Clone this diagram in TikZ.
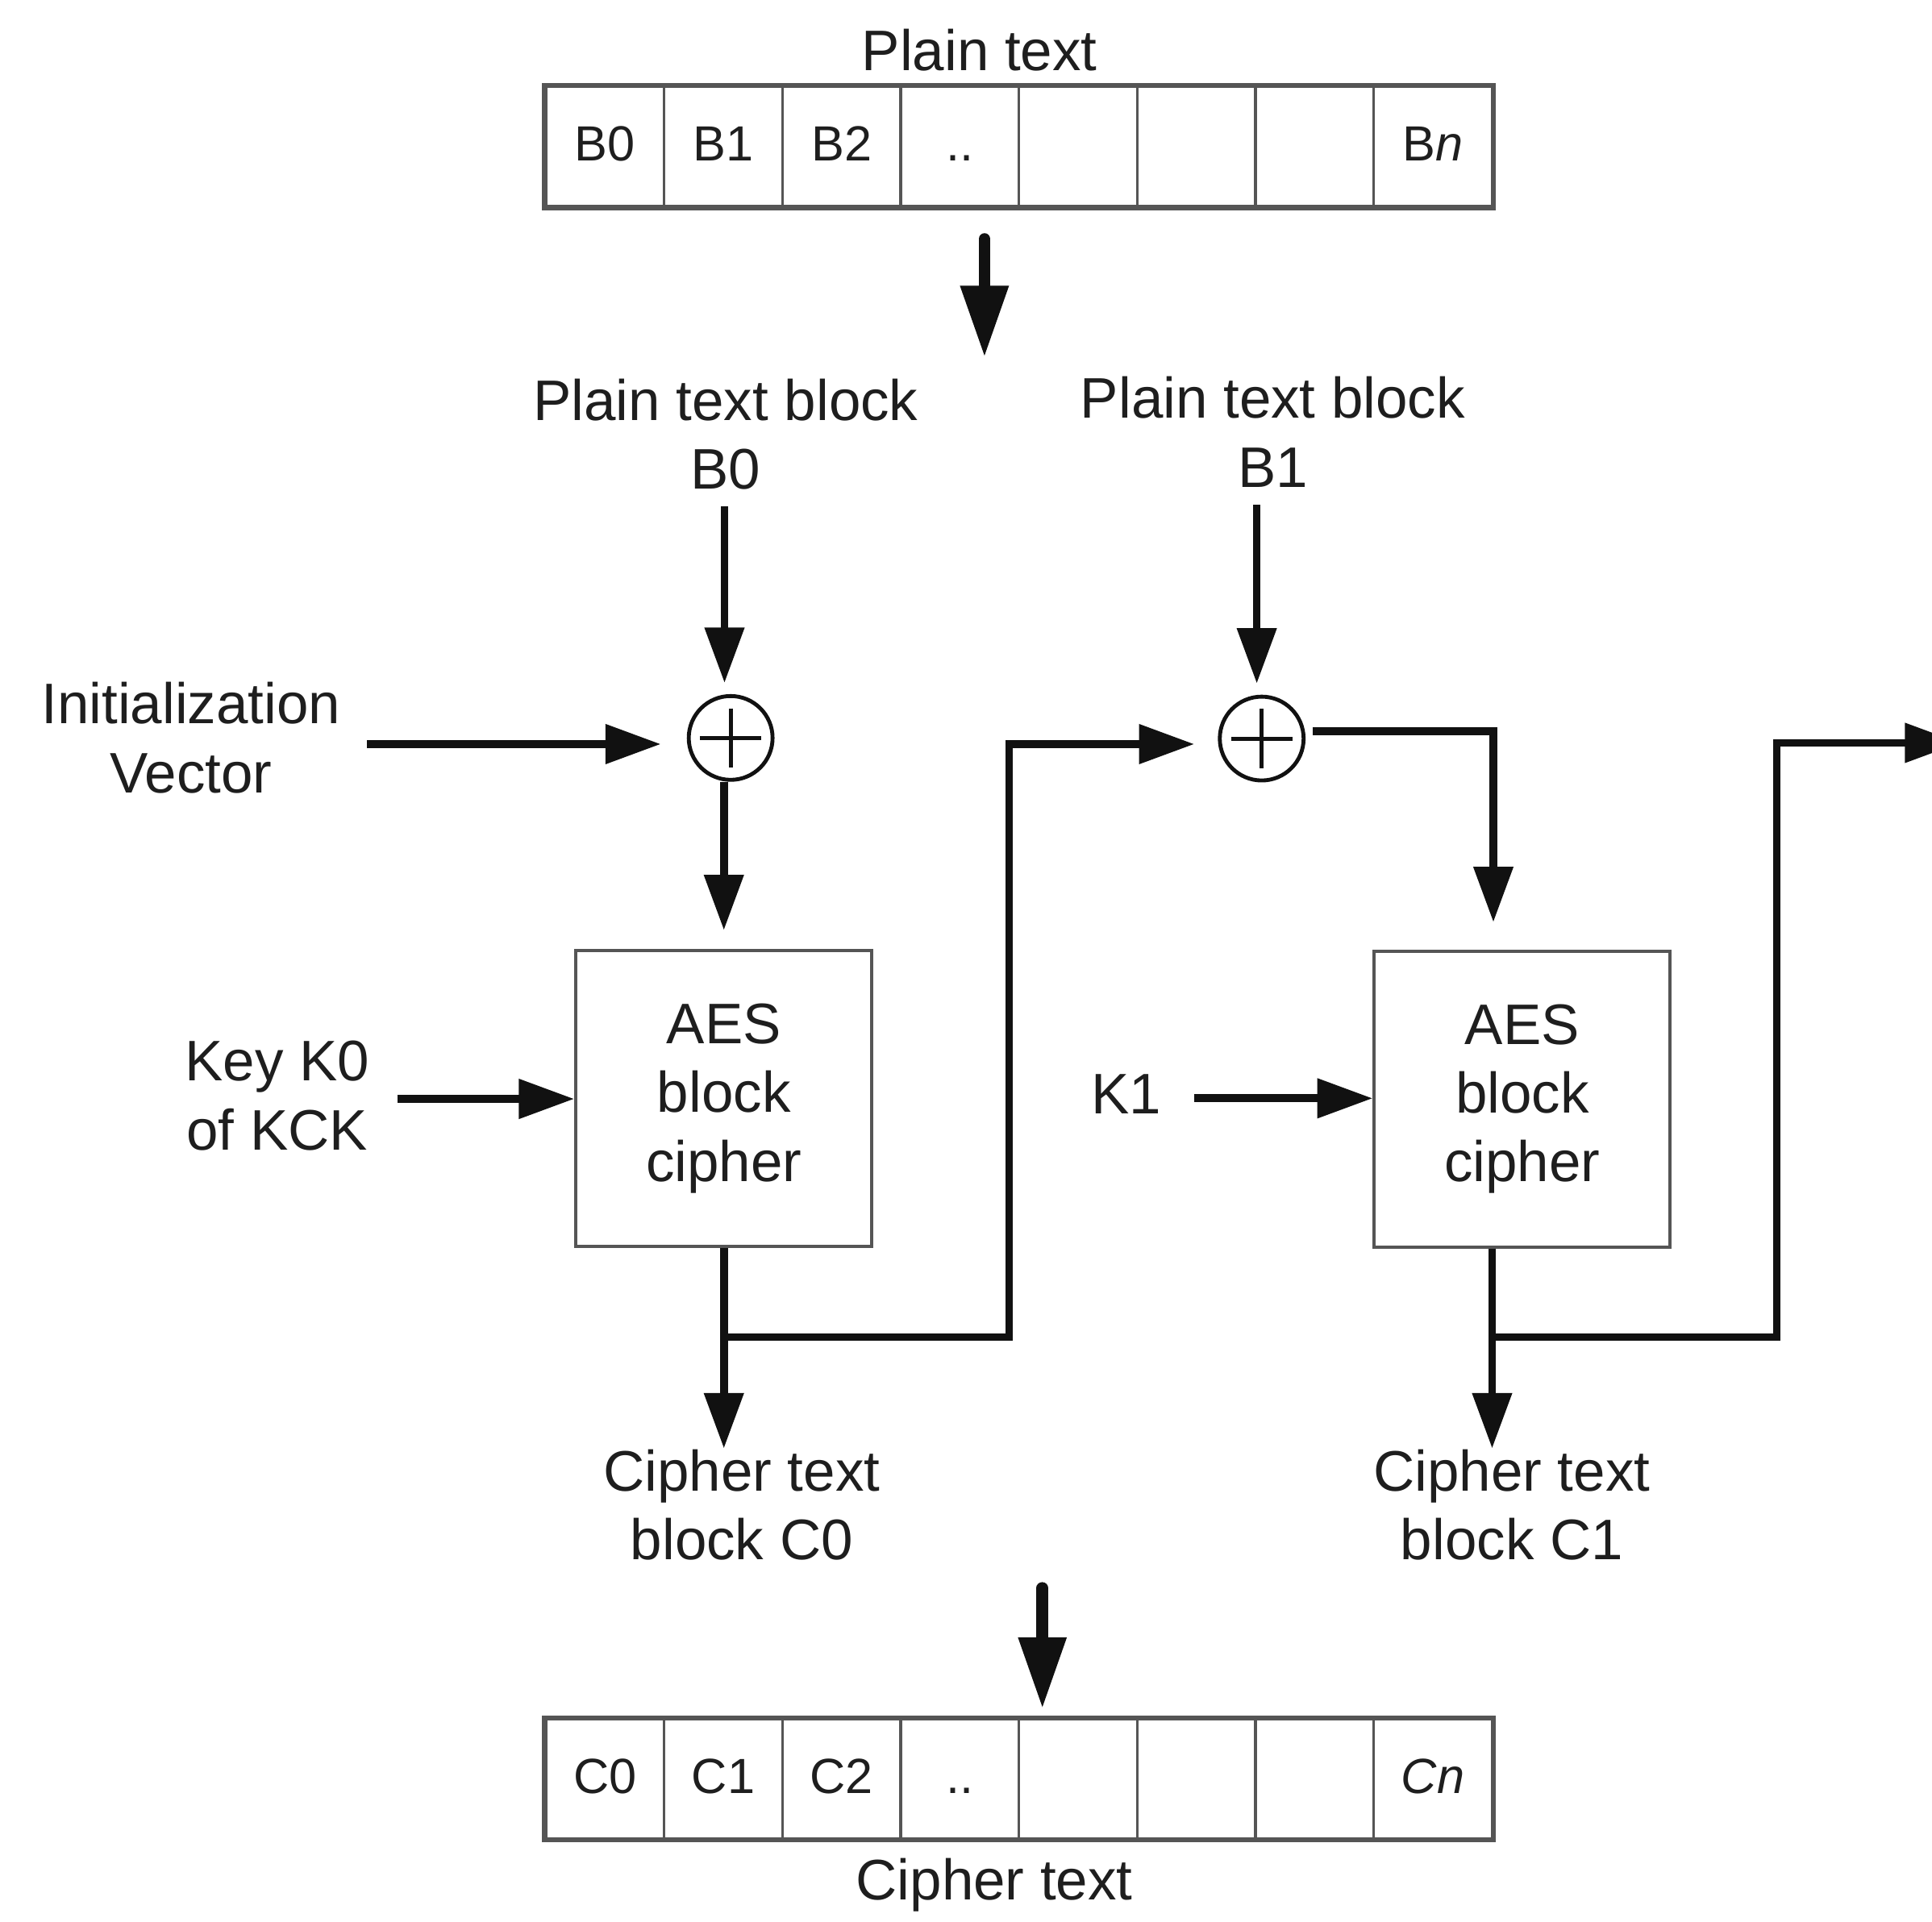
\documentclass[tikz,border=0pt]{standalone}
\usepackage{fontspec}
\setmainfont{Liberation Sans}
\usetikzlibrary{arrows.meta,calc}
\definecolor{ink}{HTML}{111111}
\definecolor{txt}{HTML}{1E1E1E}
\definecolor{boxgray}{HTML}{555555}
\begin{document}
\begin{tikzpicture}[x=0.01cm, y=-0.01cm,
  lbl/.style={font=\fontsize{13.2}{15.9}\selectfont, text=txt, align=center, inner sep=0pt},
  cellbox/.style={draw=boxgray, line width=0.6pt, minimum width=0.96cm, minimum height=0.97cm,
    inner sep=0pt, font=\fontsize{11.4}{12}\selectfont, text=txt, text height=8.1pt, text depth=1.6pt},
  aesbox/.style={lbl, draw=boxgray, line width=0.75pt, minimum width=2.40cm, minimum height=2.40cm},
  xor/.style={circle, draw=ink, line width=0.9pt, minimum size=0.68cm, inner sep=0pt,
    path picture={\draw[ink, line width=0.95pt]
      ($(path picture bounding box.center)+(-25,0)$) -- ($(path picture bounding box.center)+(25,0)$)
      ($(path picture bounding box.center)+(0,-24)$) -- ($(path picture bounding box.center)+(0,24)$);}},
  arr/.style={draw=ink, line width=1.8pt, -{Triangle[length=12.8pt,width=8.8pt]}},
  bigarr/.style={draw=ink, line width=2.7pt, line cap=round, -{Triangle[length=16.5pt,width=10.5pt]}}
]
\useasboundingbox (0,0) rectangle (1568,1559.5);
\clip (0,0) rectangle (1568,1559.5);

% plain text array
\node[lbl, anchor=base] (pt) at (795,57) {Plain text};
\node[cellbox] (p0) at (491,119) {B0};
\node[cellbox] (p1) at (587,119) {B1};
\node[cellbox] (p2) at (683,119) {B2};
\node[cellbox] (p3) at (779,119) {..};
\node[cellbox] (p4) at (875,119) {};
\node[cellbox] (p5) at (971,119) {};
\node[cellbox] (p6) at (1067,119) {};
\node[cellbox] (p7) at (1163,119) {B\textit{n}};
\draw[boxgray, line width=1.1pt] (p0.north west) rectangle (p7.south east);

\coordinate (ta) at (799,194);
\coordinate (tb) at (799,290);
\draw[bigarr] (ta) -- (tb);

% labels
\node[lbl] (lb0) at (589,352.5) {Plain text block\\B0};
\node[lbl] (lb1) at (1033,350.5) {Plain text block\\B1};
\node[lbl] (iv) at (155,599) {Initialization\\Vector};
\node[lbl] (k0) at (225,889.5) {Key K0\\of KCK};
\node[lbl, anchor=base] (k1) at (914,904) {K1};

% xor nodes
\node[xor] (x1) at (593,599) {};
\node[xor] (x2) at (1024,599.5) {};

% AES boxes
\node[aesbox] (a1) at (587.5,891.5) {AES\\block\\cipher};
\node[aesbox] (a2) at (1235.5,892) {AES\\block\\cipher};

% cipher labels
\node[lbl] (c0l) at (602,1221.5) {Cipher text\\block C0};
\node[lbl] (c1l) at (1227,1221.5) {Cipher text\\block C1};

% connectors
\draw[arr, shorten >=0.09cm] ($(lb0.south)+(-1,13)$) coordinate (s0) -- (s0 |- x1.north);
\draw[arr, shorten >=0.09cm] ($(lb1.south)+(-13,14)$) coordinate (s1) -- (s1 |- x2.north);
\draw[arr, shorten >=0.21cm] ($(iv.east)+(21,5)$) coordinate (s2) -- (s2 -| x1.west);
\draw[arr] ($(k0.east)+(22,2.5)$) coordinate (s3) -- (s3 -| a1.west);
\draw[arr] ($(k1.east)+(26,3.5)$) coordinate (s4) -- (s4 -| a2.west);
\draw[arr, shorten >=0.15cm] (a1.north |- x1.south) -- (a1.north);
\draw[arr, shorten >=0.22cm] ($(x2.east)+(6,-6)$) coordinate (s5) -| ($(a2.north)+(-23.5,0)$);
\draw[arr] (a1.south) -- (a1.south |- c0l.north);
\coordinate (j0) at ($(a1.south)+(0,72.5)$);
\coordinate (u0) at (819,604);
\draw[arr, shorten >=0.19cm] (j0) -| (u0) -- (u0 -| x2.west);
\draw[arr] ($(a2.south)+(-24.5,0)$) coordinate (o2) -- (o2 |- c1l.north);
\coordinate (j1) at ($(o2)+(0,72)$);
\coordinate (u1) at (1442,603);
\coordinate (e1) at (1591,603);
\draw[arr] (j1) -| (u1) -- (e1);

% cipher text array
\coordinate (ba) at (846,1289);
\coordinate (bb) at (846,1387);
\draw[bigarr] (ba) -- (bb);
\node[cellbox] (c0) at (491,1444) {C0};
\node[cellbox] (c1) at (587,1444) {C1};
\node[cellbox] (c2) at (683,1444) {C2};
\node[cellbox] (c3) at (779,1444) {..};
\node[cellbox] (c4) at (875,1444) {};
\node[cellbox] (c5) at (971,1444) {};
\node[cellbox] (c6) at (1067,1444) {};
\node[cellbox] (c7) at (1163,1444) {\textit{Cn}};
\draw[boxgray, line width=1.1pt] (c0.north west) rectangle (c7.south east);
\node[lbl, anchor=base] (ct) at (807,1542) {Cipher text};
\end{tikzpicture}
\end{document}
